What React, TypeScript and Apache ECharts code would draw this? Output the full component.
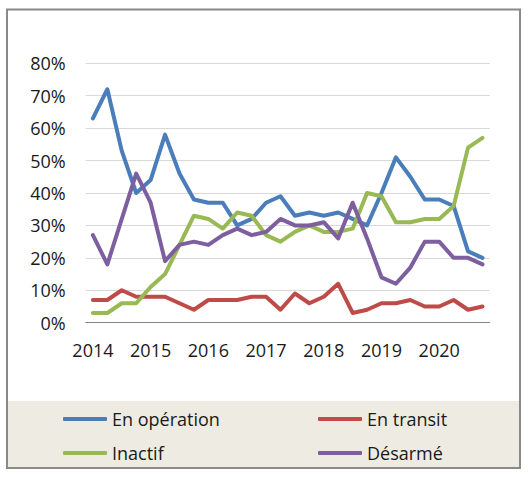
import React, { useEffect, useRef } from "react";
import * as echarts from "echarts";

const years = ["2014", "2015", "2016", "2017", "2018", "2019", "2020"];
const quarters = ["T1", "T2", "T3", "T4"];
const categories = years.flatMap((y) => quarters.map((q) => `${y} ${q}`));

const enOperation = [63, 72, 53, 40, 44, 58, 46, 38, 37, 37, 30, 32, 37, 39, 33, 34, 33, 34, 32, 30, 40, 51, 45, 38, 38, 36, 22, 20];
const enTransit = [7, 7, 10, 8, 8, 8, 6, 4, 7, 7, 7, 8, 8, 4, 9, 6, 8, 12, 3, 4, 6, 6, 7, 5, 5, 7, 4, 5];
const inactif = [3, 3, 6, 6, 11, 15, 24, 33, 32, 29, 34, 33, 27, 25, 28, 30, 28, 28, 29, 40, 39, 31, 31, 32, 32, 36, 54, 57];
const desarme = [27, 18, 32, 46, 37, 19, 24, 25, 24, 27, 29, 27, 28, 32, 30, 30, 31, 26, 37, 26, 14, 12, 17, 25, 25, 20, 20, 18];

const yTicks = { min: 0, max: 80, interval: 10 };

const FONT = "Open Sans";

export default function App() {
  const ref = useRef<HTMLDivElement>(null);
  useEffect(() => {
    if (!ref.current) return;
    const chart = echarts.init(ref.current, null, { renderer: "svg" });
    const mk = (name: string, data: number[], color: string) => ({
      name,
      type: "line",
      data,
      showSymbol: false,
      symbol: "none",
      lineStyle: { width: 4, color, cap: "round", join: "round" },
      itemStyle: { color },
    });
    const legendCommon = {
      orient: "vertical",
      top: 404,
      itemWidth: 44,
      itemHeight: 4,
      itemGap: 14,
      itemTextGap: 5,
      icon: "roundRect",
      textStyle: { fontFamily: FONT, fontSize: 18, color: "#1a1a1a", lineHeight: 20 },
    };
    chart.setOption({
      animation: false,
      backgroundColor: "#ffffff",
      textStyle: { fontFamily: FONT },
      graphic: [
        {
          type: "rect",
          shape: { x: 7, y: 401, width: 513, height: 67 },
          style: { fill: "#EEECE2" },
          z: -10,
        },
        {
          type: "rect",
          shape: { x: 7, y: 9.5, width: 513, height: 458.5 },
          style: { fill: "none", stroke: "#8a8a8a", lineWidth: 2 },
          z: 100,
        },
      ],
      grid: { left: 85.7, right: 38.3, top: 63.3, bottom: 155.3 },
      legend: [
        { ...legendCommon, data: ["En opération", "Inactif"], left: 58 },
        { ...legendCommon, data: ["En transit", "Désarmé"], left: 313 },
      ],
      xAxis: {
        type: "category",
        data: categories,
        boundaryGap: true,
        axisLine: { lineStyle: { color: "#868686", width: 1 } },
        axisTick: { interval: 3, length: 6, lineStyle: { color: "#868686" } },
        axisLabel: {
          interval: 3,
          margin: 18,
          formatter: (v: string) => v.slice(0, 4),
          fontFamily: FONT,
          fontSize: 18,
          color: "#1a1a1a",
        },
        splitLine: { show: false },
      },
      yAxis: {
        type: "value",
        min: yTicks.min,
        max: yTicks.max,
        interval: yTicks.interval,
        axisLine: { show: false },
        axisTick: { show: false },
        axisLabel: {
          margin: 20,
          formatter: (v: number) => `${v}%`,
          fontFamily: FONT,
          fontSize: 18,
          color: "#1a1a1a",
        },
        splitLine: { lineStyle: { color: "#d9d9d9", width: 1 } },
      },
      series: [
        mk("En opération", enOperation, "#4A7EBB"),
        mk("En transit", enTransit, "#BE4B48"),
        mk("Inactif", inactif, "#98B954"),
        mk("Désarmé", desarme, "#7D5FA0"),
      ],
    });
    return () => chart.dispose();
  }, []);
  return (
    <div
      ref={ref}
      style={{ position: "fixed", left: 0, top: 0, width: 528, height: 478 }}
    />
  );
}
